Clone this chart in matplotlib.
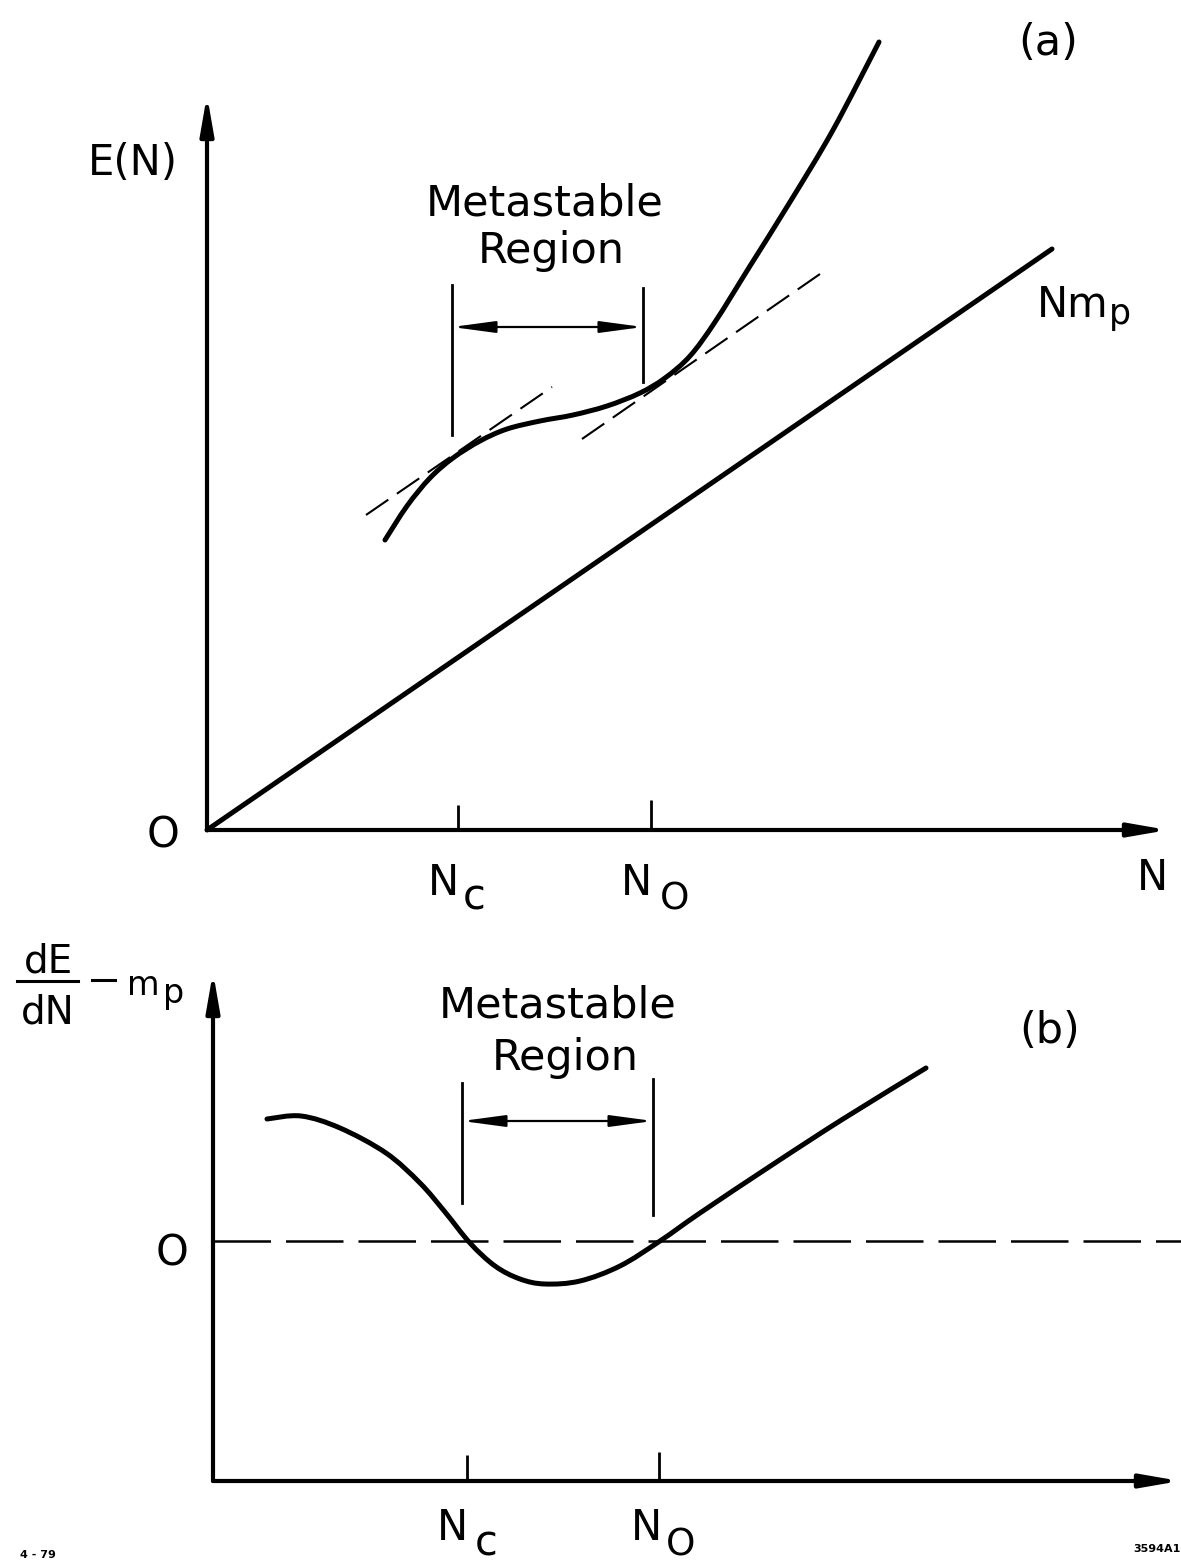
import matplotlib
matplotlib.use("Agg")
import matplotlib.pyplot as plt
from matplotlib.path import Path
from matplotlib.patches import PathPatch

plt.rcParams['font.family'] = ['DejaVu Sans']

# panel (a): E(N) curve, straight line N*m_p and the two dashed tangents
# units: 1 = 100 px, origin at the corner of the axes
ea_x = [1.78, 2.00, 2.23, 2.46, 2.73, 3.00, 3.33, 3.66, 4.00, 4.33, 4.58, 4.83, 5.08, 5.43, 5.83, 6.26, 6.72]
ea_y = [2.90, 3.24, 3.52, 3.72, 3.89, 4.01, 4.09, 4.15, 4.24, 4.37, 4.52, 4.74, 5.08, 5.64, 6.28, 7.00, 7.88]
nmp_x = [0.0, 8.45]
nmp_y = [0.0, 5.81]
tan1_x = [1.59, 3.45]
tan1_y = [3.15, 4.43]
tan2_x = [3.75, 6.13]
tan2_y = [3.91, 5.56]
region_a = [2.45, 4.36]        # vertical marks
region_a_top = [5.45, 5.42]
region_a_bot = [3.95, 4.48]
ticks_a = [2.51, 4.44]

# panel (b): dE/dN - m_p
eb_x = [0.54, 0.88, 1.27, 1.73, 2.07, 2.32, 2.57, 2.82, 3.07, 3.32, 3.67, 4.07, 4.47, 4.87, 5.59, 6.30, 7.13]
eb_y = [3.62, 3.65, 3.53, 3.28, 2.98, 2.69, 2.38, 2.15, 2.02, 1.97, 2.00, 2.15, 2.40, 2.68, 3.16, 3.62, 4.13]
zero_b = 2.40
region_b = [2.49, 4.40]
region_b_top = [3.98, 4.02]
region_b_bot = [2.78, 2.66]
ticks_b = [2.54, 4.46]

FS = 30
K = 'black'

fig = plt.figure(figsize=(11.81, 15.67), dpi=100)
ax_a = fig.add_axes([0, 627 / 1567, 1, 940 / 1567])
ax_b = fig.add_axes([0, 0, 1, 627 / 1567])
ax_a.set_xlim(-2.07, 9.74)
ax_a.set_ylim(-1.10, 8.30)
ax_b.set_xlim(-2.13, 9.68)
ax_b.set_ylim(-0.86, 5.41)
for ax in (ax_a, ax_b):
    ax.axis('off')


def smooth(ax, xs, ys, lw=3.6):
    # smooth pen stroke through the read points (catmull-rom as bezier)
    pts = list(zip(xs, ys))
    n = len(pts)
    verts = [pts[0]]
    codes = [Path.MOVETO]
    for i in range(n - 1):
        p0 = pts[max(i - 1, 0)]
        p1 = pts[i]
        p2 = pts[i + 1]
        p3 = pts[min(i + 2, n - 1)]
        c1 = (p1[0] + (p2[0] - p0[0]) / 6, p1[1] + (p2[1] - p0[1]) / 6)
        c2 = (p2[0] - (p3[0] - p1[0]) / 6, p2[1] - (p3[1] - p1[1]) / 6)
        verts += [c1, c2, p2]
        codes += [Path.CURVE4] * 3
    ax.add_patch(PathPatch(Path(verts, codes), fill=False, lw=lw, edgecolor=K, capstyle='round'))


def arrow(ax, start, tip, lw=3.0, hl=2.3, hw=0.4):
    ax.annotate('', xy=tip, xytext=start,
                arrowprops=dict(arrowstyle='-|>,head_length=%s,head_width=%s' % (hl, hw),
                                lw=lw, color=K, shrinkA=0, shrinkB=0),
                annotation_clip=False)


def double_arrow(ax, x0, x1, y):
    ax.annotate('', xy=(x1, y), xytext=(x0, y),
                arrowprops=dict(arrowstyle='<|-|>,head_length=2.6,head_width=0.35',
                                lw=1.6, color=K, shrinkA=0, shrinkB=0))


# ---------- (a) ----------
arrow(ax_a, (0, 0), (0, 7.35))
arrow(ax_a, (0, 0), (9.61, 0.0))
ax_a.plot(nmp_x, nmp_y, color=K, lw=3.6, solid_capstyle='round')
smooth(ax_a, ea_x, ea_y)
ax_a.plot(tan1_x, tan1_y, color=K, lw=1.5, dashes=(13, 5))
ax_a.plot(tan2_x, tan2_y, color=K, lw=1.5, dashes=(13, 5))
for x, t, b in zip(region_a, region_a_top, region_a_bot):
    ax_a.plot([x, x], [b, t], color=K, lw=2.0)
double_arrow(ax_a, region_a[0], region_a[1], 5.03)
ax_a.vlines(ticks_a, 0, [0.25, 0.30], color=K, lw=2.0)

ax_a.text(3.38, 6.15, 'Metastable', fontsize=31, ha='center', va='baseline')
ax_a.text(3.44, 5.67, 'Region', fontsize=31, ha='center', va='baseline')
ax_a.text(8.41, 7.75, '(a)', fontsize=31, ha='center', va='baseline')
ax_a.text(-0.29, 6.55, 'E(N)', fontsize=FS, ha='right', va='baseline')
ax_a.text(8.30, 5.13, 'Nm', fontsize=FS, ha='left', va='baseline')
ax_a.text(9.02, 5.06, 'p', fontsize=FS - 5, ha='left', va='baseline')
ax_a.text(-0.44, -0.17, 'O', fontsize=FS, ha='center', va='baseline')
ax_a.text(2.52, -0.65, 'N', fontsize=FS, ha='right', va='baseline')
ax_a.text(2.56, -0.80, 'c', fontsize=FS, ha='left', va='baseline')
ax_a.text(4.45, -0.65, 'N', fontsize=FS, ha='right', va='baseline')
ax_a.text(4.53, -0.80, 'O', fontsize=FS - 3, ha='left', va='baseline')
ax_a.text(9.45, -0.60, 'N', fontsize=FS, ha='center', va='baseline')

# ---------- (b) ----------
arrow(ax_b, (0, 0), (0, 5.09))
arrow(ax_b, (0, 0), (9.67, 0))
ax_b.axhline(zero_b, xmin=2.13 / 11.81, color=K, lw=1.8, dashes=(23, 6))
smooth(ax_b, eb_x, eb_y)
for x, t, b in zip(region_b, region_b_top, region_b_bot):
    ax_b.plot([x, x], [b, t], color=K, lw=2.0)
double_arrow(ax_b, region_b[0], region_b[1], 3.60)
ax_b.vlines(ticks_b, 0, [0.26, 0.29], color=K, lw=2.0)

ax_b.text(3.45, 4.64, 'Metastable', fontsize=31, ha='center', va='baseline')
ax_b.text(3.52, 4.11, 'Region', fontsize=31, ha='center', va='baseline')
ax_b.text(8.37, 4.38, '(b)', fontsize=31, ha='center', va='baseline')
ax_b.text(-0.41, 2.16, 'O', fontsize=FS, ha='center', va='baseline')
ax_b.text(2.55, -0.59, 'N', fontsize=FS, ha='right', va='baseline')
ax_b.text(2.62, -0.74, 'c', fontsize=FS, ha='left', va='baseline')
ax_b.text(4.49, -0.59, 'N', fontsize=FS, ha='right', va='baseline')
ax_b.text(4.53, -0.74, 'O', fontsize=FS - 3, ha='left', va='baseline')

# dE/dN - m_p label
ax_b.text(-1.65, 5.09, 'dE', fontsize=28, ha='center', va='baseline')
ax_b.plot([-1.96, -1.35], [5.00, 5.00], color=K, lw=2.2, clip_on=False)
ax_b.text(-1.65, 4.58, 'dN', fontsize=28, ha='center', va='baseline')
ax_b.plot([-1.21, -0.98], [5.01, 5.01], color=K, lw=2.2, clip_on=False)
ax_b.text(-0.86, 4.86, 'm', fontsize=24, ha='left', va='baseline')
ax_b.text(-0.50, 4.78, 'p', fontsize=24, ha='left', va='baseline')

fig.text(20 / 1181, 1 - 1558 / 1567, '4 - 79', fontsize=8, fontweight='bold')
fig.text(1181 / 1181, 1 - 1552 / 1567, '3594A1', fontsize=8, fontweight='bold', ha='right')

fig.savefig('out.png', dpi=100)
